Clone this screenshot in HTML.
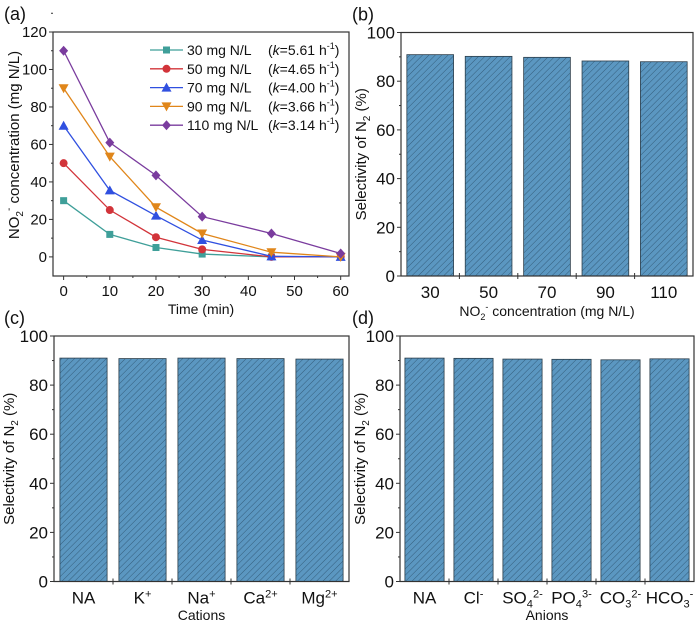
<!DOCTYPE html>
<html><head><meta charset="utf-8"><style>
body{margin:0;background:#fff;}
svg{display:block;font-family:"Liberation Sans",Arial,sans-serif;}
</style></head><body>
<svg id="fig" width="700" height="624" viewBox="0 0 700 624">
<defs>
<pattern id="hatch" patternUnits="userSpaceOnUse" width="4.5" height="4.5" patternTransform="rotate(45)">
<rect width="4.5" height="4.5" fill="#5b97c1"/>
<line x1="0" y1="0" x2="0" y2="4.5" stroke="#2f5673" stroke-width="0.9"/>
</pattern>
</defs>
</svg>
<script>
const timeCats=[0,10,20,30,45,60];
const s30=[30,12,5,1.5,0,0];
const s50=[50,25,10.5,4,0,0];
const s70=[70,35.5,22,9,0.3,0];
const s90=[90,53.5,26.5,12.5,2.5,0];
const s110=[110,61,43.5,21.5,12.5,1.8];
const seriesNames=["30 mg N/L","50 mg N/L","70 mg N/L","90 mg N/L","110 mg N/L"];
const seriesK=["5.61","4.65","4.00","3.66","3.14"];
const aYTicks=[0,20,40,60,80,100,120];
const aXTicks=[0,10,20,30,40,50,60];
const bCats=["30","50","70","90","110"];
const bVals=[90.9,90.2,89.8,88.3,88.0];
const cCats=["NA","K|+","Na|+","Ca|2+","Mg|2+"];
const cVals=[91.0,90.8,91.0,90.8,90.6];
const dCats=["NA","Cl|-","SO|4|2-","PO|4|3-","CO|3|2-","HCO|3|-"];
const dVals=[91.0,90.9,90.6,90.5,90.3,90.7];
const barYTicks=[0,20,40,60,80,100];

const svg=document.getElementById('fig');
const NS='http://www.w3.org/2000/svg';
function el(tag,attrs,parent){const e=document.createElementNS(NS,tag);for(const k in attrs)e.setAttribute(k,attrs[k]);(parent||svg).appendChild(e);return e;}
function txt(x,y,s,size,anchor,parent){const t=el('text',{x:x,y:y,'font-size':size,'text-anchor':anchor||'middle',fill:'#111'},parent);t.textContent=s;return t;}
function richLabel(x,y,spec,size,parent){
  const p=spec.split('|');
  const t=el('text',{x:x,y:y,'font-size':size,'text-anchor':'middle',fill:'#111'},parent);
  const b=document.createElementNS(NS,'tspan');b.textContent=p[0];t.appendChild(b);
  if(p.length===2){const s=document.createElementNS(NS,'tspan');s.setAttribute('dy',-6);s.setAttribute('font-size',size*0.65);s.textContent=p[1];t.appendChild(s);}
  if(p.length===3){const s=document.createElementNS(NS,'tspan');s.setAttribute('dy',4);s.setAttribute('font-size',size*0.65);s.textContent=p[1];t.appendChild(s);
    const u=document.createElementNS(NS,'tspan');u.setAttribute('dy',-10);u.setAttribute('font-size',size*0.65);u.textContent=p[2];t.appendChild(u);}
  return t;
}

// ---------- Panel (a) ----------
const A={l:53,r:349,t:32,b:276,xmin:-2.3,xmax:61.8,ymin:-10.2,ymax:120};
function ax(v){return A.l+(v-A.xmin)/(A.xmax-A.xmin)*(A.r-A.l);}
function ay(v){return A.b-(v-A.ymin)/(A.ymax-A.ymin)*(A.b-A.t);}
const ga=el('g',{});


el('rect',{x:A.l,y:A.t,width:A.r-A.l,height:A.b-A.t,fill:'none',stroke:'#333','stroke-width':1.2},ga);
aYTicks.forEach(v=>{el('line',{x1:A.l-4,x2:A.l,y1:ay(v),y2:ay(v),stroke:'#333'},ga);
  el('line',{x1:A.l-2,x2:A.l,y1:ay(v+10),y2:ay(v+10),stroke:'#333'},ga);
  const t=txt(A.l-6,ay(v)+5,String(v),15,'end',ga);});
aXTicks.forEach(v=>{el('line',{x1:ax(v),x2:ax(v),y1:A.b,y2:A.b+4,stroke:'#333'},ga);
  if(v<60)el('line',{x1:ax(v+5),x2:ax(v+5),y1:A.b,y2:A.b+2,stroke:'#333'},ga);
  const t=txt(ax(v),A.b+20,String(v),15,'middle',ga);});
const xa=txt(201,314,'Time (min)',14,'middle',ga);

const ya=el('text',{x:0,y:0,'font-size':15,'text-anchor':'middle',fill:'#111',transform:'translate(19,145) rotate(-90)'},ga);
ya.innerHTML='NO<tspan font-size="10" dy="4">2</tspan><tspan font-size="10" dy="-11">-</tspan><tspan dy="7"> concentration (mg N/L)</tspan>';

const pl=txt(4,20,'(a)',18,'start',ga);

const allSeries=[s30,s50,s70,s90,s110];
const colors=['#3f9f99','#d2343a','#3050e0','#e0861a','#7a3c9e'];
const shapes=['square','circle','tri','tridown','diamond'];
function marker(g,x,y,shape,c){
  let m;
  if(shape==='square')m=el('rect',{x:x-3.5,y:y-3.5,width:7,height:7,fill:c},g);
  else if(shape==='circle')m=el('circle',{cx:x,cy:y,r:4,fill:c},g);
  else if(shape==='tri')m=el('polygon',{points:`${x},${y-5} ${x-5},${y+4} ${x+5},${y+4}`,fill:c},g);
  else if(shape==='tridown')m=el('polygon',{points:`${x},${y+5} ${x-5},${y-4} ${x+5},${y-4}`,fill:c},g);
  else m=el('polygon',{points:`${x},${y-5} ${x+4.5},${y} ${x},${y+5} ${x-4.5},${y}`,fill:c},g);
  return m;
}
allSeries.forEach((s,i)=>{
  const g=el('g',{},ga);
  
  
  el('polyline',{points:s.map((v,j)=>ax(timeCats[j])+','+ay(v)).join(' '),fill:'none',stroke:colors[i],'stroke-width':1.3},g);
  s.forEach((v,j)=>{const m=marker(g,ax(timeCats[j]),ay(v),shapes[i],colors[i]);
    });
  const ly=50+i*18.8;
  const lg=el('g',{},ga);
  
  
  el('line',{x1:150,x2:183,y1:ly,y2:ly,stroke:colors[i],'stroke-width':1.3},lg);
  marker(lg,166.5,ly,shapes[i],colors[i]);
  txt(187,ly+5,seriesNames[i],14,'start',lg);
  const t2=el('text',{x:268,y:ly+5,'font-size':14,fill:'#111'},lg);
  t2.innerHTML='(<tspan font-style="italic">k</tspan>='+seriesK[i]+' h<tspan font-size="9" dy="-6">-1</tspan><tspan dy="6">)</tspan>';
});

// ---------- Bar panels ----------
function barPanel(name,P,cats,vals,label,xtitle,xtitleY,ytitleX,labelX){
  const g=el('g',{});
  
  
  const n=cats.length,w=(P.r-P.l)/n;
  function by(v){return P.b-v/100*(P.b-P.t);}
  function bx(i){return P.l+w*(i+0.5);}
  vals.forEach((v,i)=>{const r=el('rect',{x:bx(i)-w*0.4,y:by(v),width:w*0.8,height:by(0)-by(v),fill:'url(#hatch)',stroke:'#2b3d4a','stroke-width':0.8},g);
    });
  el('rect',{x:P.l,y:P.t,width:P.r-P.l,height:P.b-P.t,fill:'none',stroke:'#333','stroke-width':1.2},g);
  barYTicks.forEach(v=>{el('line',{x1:P.l-4,x2:P.l,y1:by(v),y2:by(v),stroke:'#333'},g);
    if(v<100)el('line',{x1:P.l-2,x2:P.l,y1:by(v+10),y2:by(v+10),stroke:'#333'},g);
    const t=txt(P.l-6,by(v)+6,String(v),17,'end',g);});
  for(let i=1;i<n;i++)el('line',{x1:P.l+w*i,x2:P.l+w*i,y1:P.b-3,y2:P.b+3,stroke:'#333'},g);
  cats.forEach((c,i)=>{const t=richLabel(bx(i),P.b+22,c,17,g);});
  const xt=el('text',{x:(P.l+P.r)/2,y:xtitleY,'font-size':14,'text-anchor':'middle',fill:'#111'},g);
  xt.innerHTML=xtitle;
  const yt=el('text',{x:0,y:0,'font-size':15,'text-anchor':'middle',fill:'#111',transform:`translate(${ytitleX},${(P.t+P.b)/2}) rotate(-90)`},g);
  yt.innerHTML='Selectivity of N<tspan font-size="10" dy="4">2</tspan><tspan dy="-4"> (%)</tspan>';
  
  const pl=txt(labelX,P.t-12,label,18,'start',g);
}
barPanel('panel-b',{l:401,r:693,t:32.5,b:276},bCats,bVals,'(b)','NO<tspan font-size="9" dy="4">2</tspan><tspan font-size="9" dy="-10">-</tspan><tspan dy="6"> concentration (mg N/L)</tspan>',316,366,352);
barPanel('panel-c',{l:54,r:349,t:336,b:581.5},cCats,cVals,'(c)','Cations',620,14,4);
barPanel('panel-d',{l:400,r:694,t:336,b:581.5},dCats,dVals,'(d)','Anions',620,365,352);
</script>
</body></html>
